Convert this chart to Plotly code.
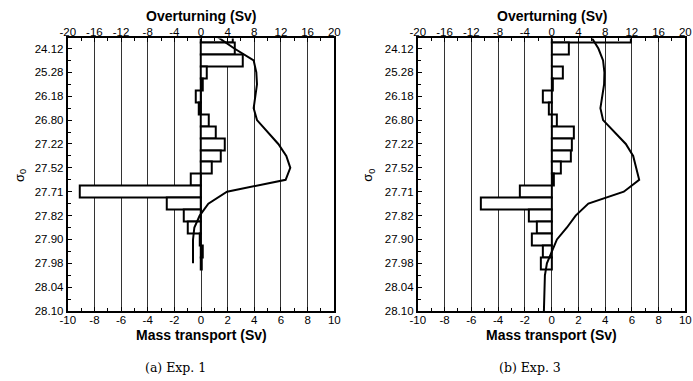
import plotly.graph_objects as go

W, H = 693, 381

# density class labels (sigma_0), one per major tick, top to bottom
sigma_labels = ["24.12", "25.28", "26.18", "26.80", "27.22", "27.52",
                "27.71", "27.82", "27.90", "27.98", "28.04", "28.10"]

# layer index of each bar (half-tick steps of the density axis)
layers_exp1 = list(range(1, 21))
layers_exp3 = list(range(1, 21))
line_layers_exp1 = list(range(1, 21))
line_layers_exp3 = list(range(1, 25))

# mass transport per layer (Sv)
mass_exp1 = [2.4, 2.5, 3.1, 0.4, 0.1, -0.4, -0.2, 0.55, 1.1, 1.8,
             1.5, 0.8, -0.75, -9.1, -2.6, -1.3, -1.0, -0.12, 0.12, 0.02]
mass_exp3 = [5.9, 1.27, 0.03, 0.83, 0.1, -0.68, -0.24, 0.41, 1.7, 1.5,
             1.44, 0.7, 0.17, -2.34, -5.3, -1.73, -1.12, -1.51, -0.68, -0.82]

# overturning (Sv)
overt_exp1 = [2.4, 5.0, 7.9, 8.3, 8.4, 8.1, 7.9, 8.4, 10.0, 11.6,
              12.8, 13.4, 12.7, 3.9, 1.1, -0.2, -1.0, -1.2, -1.2, -1.2]
overt_exp3 = [5.9, 7.0, 7.7, 7.9, 7.85, 7.6, 7.3, 7.7, 9.4, 11.1,
              12.2, 12.7, 13.1, 10.8, 5.5, 3.6, 2.3, 0.8, 0.0, -0.7,
              -1.0, -1.05, -1.1, -1.15]

mass_ticks = list(range(-10, 11, 2))
overt_ticks = list(range(-20, 21, 4))
captions = ["(a) Exp. 1", "(b) Exp. 3"]

FONT = "Liberation Sans"
tickfont = dict(family=FONT, size=11.5, color="black")

fig = go.Figure()

fig.add_trace(go.Bar(x=mass_exp1, y=layers_exp1, orientation="h", width=1,
                     marker=dict(color="white", line=dict(color="black", width=2)),
                     xaxis="x", yaxis="y", showlegend=False))
fig.add_trace(go.Scatter(x=overt_exp1, y=line_layers_exp1, mode="lines",
                         line=dict(color="black", width=2),
                         xaxis="x3", yaxis="y", showlegend=False))
fig.add_trace(go.Bar(x=mass_exp3, y=layers_exp3, orientation="h", width=1,
                     marker=dict(color="white", line=dict(color="black", width=2)),
                     xaxis="x2", yaxis="y2", showlegend=False))
fig.add_trace(go.Scatter(x=overt_exp3, y=line_layers_exp3, mode="lines",
                         line=dict(color="black", width=2),
                         xaxis="x4", yaxis="y2", showlegend=False))

dom1 = [61 / W, 333 / W]
dom2 = [418.3 / W, 691.3 / W]
ydom = [(H - 316) / H, (H - 39) / H]

def xbottom(domain, anchor):
    return dict(domain=domain, anchor=anchor, range=[-10, 10], tickvals=mass_ticks,
                ticktext=[str(t) for t in mass_ticks],
                showline=True, linecolor="black", linewidth=2,
                ticks="inside", ticklen=4, tickcolor="black", tickwidth=1,
                ticklabelstandoff=-3,
                minor=dict(dtick=1, ticks="inside", ticklen=3, tickcolor="black", showgrid=False),
                showgrid=True, gridcolor="#333", gridwidth=1, zeroline=False,
                tickfont=tickfont, fixedrange=True)

def xtop(over, anchor):
    return dict(overlaying=over, anchor=anchor, side="top", range=[-20, 20],
                tickvals=overt_ticks, ticktext=[str(t) for t in overt_ticks],
                showline=True, linecolor="black", linewidth=2,
                ticks="inside", ticklen=4, tickcolor="black", tickwidth=1,
                ticklabelstandoff=-4,
                minor=dict(dtick=2, ticks="inside", ticklen=3, tickcolor="black", showgrid=False),
                showgrid=False, zeroline=False, tickfont=tickfont)

def yax(anchor):
    return dict(domain=ydom, anchor=anchor, range=[24, 1.15],
                tickvals=list(range(2, 25, 2)), ticktext=sigma_labels,
                showline=True, linecolor="black", linewidth=2, mirror=True,
                ticks="inside", ticklen=4, tickcolor="black", tickwidth=1,
                minor=dict(tickvals=list(range(3, 24, 2)), ticks="inside", ticklen=3,
                           tickcolor="black", showgrid=False),
                showgrid=False, zeroline=False, tickfont=tickfont)

def ann(x, y, text, font, angle=0):
    return dict(x=x / W, y=(H - y) / H, xref="paper", yref="paper", text=text,
                showarrow=False, xanchor="center", yanchor="middle",
                textangle=angle, font=font)

tfont = dict(family=FONT, size=14, color="black")
annotations = []
for cx in [197, 555]:
    annotations.append(ann(cx, 16, "<b>Overturning (Sv)</b>", tfont))
    annotations.append(ann(cx, 340, "<b>Mass transport (Sv)</b>", tfont))
for sx in [12, 368]:
    annotations.append(ann(sx, 178, "σ<sub>0</sub>",
                           dict(family=FONT, size=13, color="black"), angle=-90))
for cap, cap_x in zip(captions, [171, 533]):
    annotations.append(ann(cap_x, 373, cap,
                           dict(family="DejaVu Serif", size=12.5, color="black")))

fig.update_layout(
    width=W, height=H, margin=dict(l=0, r=0, t=0, b=0),
    paper_bgcolor="white", plot_bgcolor="white",
    xaxis=xbottom(dom1, "y"), xaxis2=xbottom(dom2, "y2"),
    xaxis3=xtop("x", "y"), xaxis4=xtop("x2", "y2"),
    yaxis=yax("x"), yaxis2=yax("x2"),
    annotations=annotations, bargap=0,
)

fig.write_html("out.html")
